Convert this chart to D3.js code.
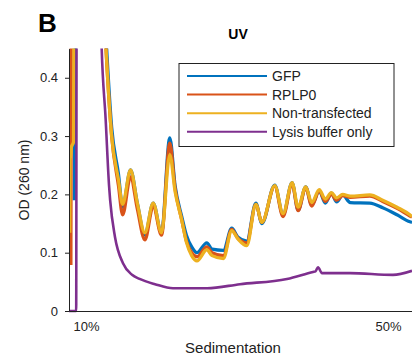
<!DOCTYPE html>
<html>
<head>
<meta charset="utf-8">
<script src="https://cdn.jsdelivr.net/npm/d3@7"></script>
<style>
	body { margin: 0; background: #fff; }
	svg { font-family: "Liberation Sans", Arial, Helvetica, sans-serif; }
	.axis path, .axis line { stroke: #222; }
	.axis text { fill: #222; font-size: 13px; }
</style>
</head>
<body>
<svg id="chart" width="412" height="362"></svg>
<script>
'use strict'

// sedimentation position (%) shared by the three sample traces
const sampleSed = [7.85, 7.9, 8.0, 8.05, 8.35, 8.45, 8.6, 10, 11.5, 12.65, 13.4, 14.3, 14.85, 15.9, 16.8, 17.8, 18.9, 20.0,
	21.1, 21.8, 22.7, 23.3, 24.0, 24.7, 26.0, 26.7, 28.2, 29.3, 30.1, 31.3, 32.5, 33.3, 35.0, 36.1,
	37.3, 38.1, 39.1, 39.9, 40.9, 41.7, 42.5, 43.2, 44.0, 45.0, 47.6, 49.3, 51.2, 52.9, 53.18]

const gfp = [null, null, null, null, null, 0.19, 0.6, 1.0, 0.8, 0.47, 0.315, 0.235, 0.178, 0.242, 0.185, 0.13, 0.185, 0.134,
	0.297, 0.215, 0.161, 0.13, 0.11, 0.1, 0.117, 0.106, 0.104, 0.142, 0.127, 0.12, 0.185, 0.15, 0.216, 0.165,
	0.22, 0.173, 0.213, 0.182, 0.206, 0.185, 0.202, 0.187, 0.199, 0.186, 0.185, 0.177, 0.165, 0.153, 0.152]

const rplp0 = [null, null, 0.079, 0.6, 1.0, 1.0, 1.0, 1.0, 0.8, 0.45, 0.3, 0.215, 0.165, 0.23, 0.175, 0.122, 0.18, 0.13,
	0.288, 0.21, 0.155, 0.12, 0.1, 0.093, 0.11, 0.1, 0.095, 0.14, 0.125, 0.117, 0.183, 0.152, 0.214, 0.162,
	0.218, 0.172, 0.212, 0.18, 0.206, 0.188, 0.2, 0.19, 0.198, 0.195, 0.197, 0.188, 0.176, 0.163, 0.161]

const nonTransfected = [0.134, 0.26, 0.27, 0.28, 0.29, 0.6, 1.0, 1.0, 0.8, 0.45, 0.3, 0.225, 0.183, 0.242, 0.185, 0.134, 0.185, 0.134,
	0.268, 0.205, 0.155, 0.118, 0.095, 0.086, 0.105, 0.095, 0.09, 0.138, 0.124, 0.112, 0.183, 0.152, 0.215, 0.167,
	0.22, 0.178, 0.213, 0.186, 0.208, 0.192, 0.203, 0.194, 0.2, 0.197, 0.199, 0.19, 0.178, 0.165, 0.162]

// lysis buffer only has its own sampling
const lysisSed = [7.75, 8.7, 8.8, 10, 11.5, 12.08, 12.6, 13.05, 13.2, 13.84, 14.9, 16.1, 17.1, 19.14,
	21.52, 26.03, 30.4, 36.62, 40.07, 40.4, 40.73, 41.26, 44.97, 50.66, 53.18]
const lysis = [0, 0, 1.0, 1.0, 0.8, 0.45, 0.33, 0.216, 0.19, 0.127, 0.082, 0.062, 0.055, 0.046,
	0.039, 0.039, 0.046, 0.055, 0.067, 0.068, 0.075, 0.065, 0.065, 0.062, 0.069]

const seriesNames = ['GFP', 'RPLP0', 'Non-transfected', 'Lysis buffer only']
const colors = ['#0072BD', '#D95319', '#EDB120', '#7E2F8E']
const yTicks = [0, 0.1, 0.2, 0.3, 0.4]
const xTicks = [10, 50]

const series = [
	{name: seriesNames[0], xs: sampleSed, ys: gfp},
	{name: seriesNames[1], xs: sampleSed, ys: rplp0},
	{name: seriesNames[2], xs: sampleSed, ys: nonTransfected},
	{name: seriesNames[3], xs: lysisSed, ys: lysis}
]

const margins = {top: 48.6, right: 0, bottom: 51, left: 69}
const width = 412, height = 362
const chartWidth = width - margins.left - margins.right
const chartHeight = height - margins.top - margins.bottom

const x = d3.scaleLinear().domain([7.75, 53.18]).range([0, chartWidth])
const y = d3.scaleLinear().domain([0, 0.45]).range([chartHeight, 0])

const svg = d3.select('#chart')
const g = svg.append('g').attr('transform', 'translate(' + margins.left + ',' + margins.top + ')')

// clip so the off-scale peak is cut at the top
g.append('clipPath').attr('id', 'plotClip')
	.append('rect').attr('x', 0).attr('y', 0).attr('width', chartWidth).attr('height', chartHeight + 2)

const line = d3.line()
	.defined((d) => d[1] !== null)
	.x((d) => x(d[0]))
	.y((d) => y(d[1]))
	.curve(d3.curveMonotoneX)

g.append('g').attr('clip-path', 'url(#plotClip)')
	.selectAll('path')
	.data(series)
	.enter().append('path')
	.attr('d', (s) => line(s.xs.map((v, i) => [v, s.ys[i]])))
	.attr('fill', 'none')
	.attr('stroke', (s, i) => colors[i])
	.attr('stroke-width', (s, i) => i === 3 ? 2.6 : 3.3)
	.attr('stroke-linejoin', 'round')

// axes
g.append('g').classed('axis', true)
	.call(d3.axisLeft(y).tickValues(yTicks).tickSize(4).tickPadding(7).tickSizeOuter(0)
		.tickFormat((d) => d === 0 ? '0' : d3.format('.1f')(d)))

const xAxis = g.append('g').classed('axis', true)
	.attr('transform', 'translate(0,' + chartHeight + ')')
	.call(d3.axisBottom(x).tickValues(xTicks).tickSize(0).tickPadding(11).tickSizeOuter(0)
		.tickFormat((d) => d + '%'))
xAxis.selectAll('.domain').attr('stroke-width', 1.2)

// labels
svg.append('text').text('B')
	.attr('x', 38).attr('y', 32)
	.style('font-size', '26px').style('font-weight', 'bold').attr('fill', '#000')
svg.append('text').text('UV')
	.attr('x', 238).attr('y', 39).attr('text-anchor', 'middle')
	.style('font-size', '14px').style('font-weight', 'bold').attr('fill', '#000')
svg.append('text').text('Sedimentation')
	.attr('x', 233).attr('y', 353).attr('text-anchor', 'middle')
	.style('font-size', '15px').attr('fill', '#222')
svg.append('text').text('OD (260 nm)')
	.attr('transform', 'translate(29,180) rotate(-90)').attr('text-anchor', 'middle')
	.style('font-size', '14px').attr('fill', '#222')

// legend
const legend = svg.append('g').attr('transform', 'translate(179,63.5)')
legend.append('rect').attr('width', 215).attr('height', 83)
	.attr('fill', '#fff').attr('stroke', '#222').attr('stroke-width', 1)
const item = legend.selectAll('.item')
	.data(seriesNames)
	.enter().append('g')
	.attr('transform', (d, i) => 'translate(0,' + (12.5 + i * 18.6) + ')')
item.append('line').attr('x1', 8).attr('x2', 88)
	.attr('stroke', (d, i) => colors[i]).attr('stroke-width', 2)
item.append('text').text((d) => d)
	.attr('x', 93).attr('dy', '0.35em')
	.style('font-size', '14px').attr('fill', '#222')
</script>
</body>
</html>
